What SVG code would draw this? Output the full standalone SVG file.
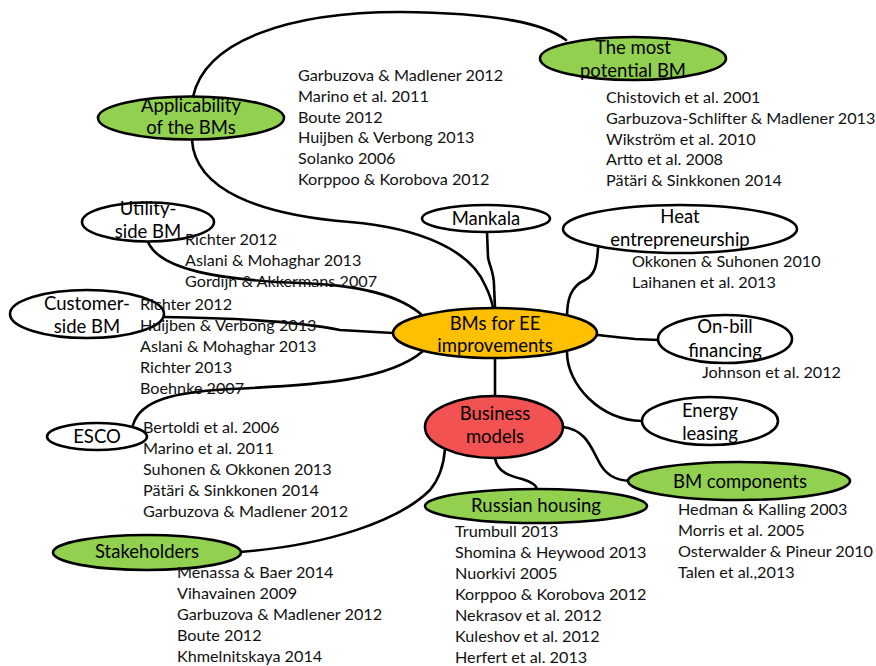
<svg xmlns="http://www.w3.org/2000/svg" width="876" height="666" viewBox="0 0 876 666">
  <style>
    .c { fill: none; stroke: #000; stroke-width: 2.6; stroke-linecap: round; }
    .n { stroke: #000; stroke-width: 2.6; }
    .w { fill: #fff; }
    .g { fill: #92D050; }
    .o { fill: #FFC000; }
    .r { fill: #F35252; }
    .lab { font-family: Lato, "Liberation Sans", sans-serif; font-size: 18.5px; text-anchor: middle; fill: #000; }
    .ref { font-family: Lato, "Liberation Sans", sans-serif; font-size: 16.2px; fill: #111; }
  </style>

  <rect width="876" height="666" fill="#fff"/>

  <!-- connectors between the topic bubbles -->
  <g id="connectors">
    <path class="c" d="M193,97 C205,40 290,12 400,12 C500,13 545,24 566,40"/>
    <path class="c" d="M192,140 C195,190 260,215 350,222 C420,228 470,250 485,285 C490,295 492,302 493,308"/>
    <path class="c" d="M487,232 L488,257 C489,265 494,272 494,285 L495,308"/>
    <path class="c" d="M598,248 C597,265 595,275 585,280 C570,287 567,300 567,318"/>
    <path class="c" d="M597,335 C610,336 620,338 635,339 L658,340"/>
    <path class="c" d="M567,352 C567,385 600,420 642,421"/>
    <path class="c" d="M148,242 C160,270 220,280 300,283 C360,285 400,295 423,316"/>
    <path class="c" d="M163,317 C240,318 300,322 340,330 L393,333"/>
    <path class="c" d="M133,425 C140,400 175,392 230,389 C320,385 390,380 423,351"/>
    <path class="c" d="M495,358 L495,396"/>
    <path class="c" d="M495,458 C497,472 510,476 522,479 C532,482 537,485 537,490"/>
    <path class="c" d="M563,427 C585,430 590,445 598,460 C605,475 615,480 630,481"/>
    <path class="c" d="M240,552 C330,545 400,520 430,490 C440,478 444,462 445,449"/>
  </g>

  <g id="applicability">
    <ellipse class="n g" cx="191" cy="118" rx="93" ry="21.5"/>
    <text class="lab" x="191" y="112">Applicability</text>
    <text class="lab" x="191" y="134">of the BMs</text>
    <text class="ref" x="298" y="81">
      <tspan x="298">Garbuzova &amp; Madlener 2012</tspan>
      <tspan x="298" dy="20.8">Marino et al. 2011</tspan>
      <tspan x="298" dy="20.8">Boute 2012</tspan>
      <tspan x="298" dy="20.8">Huijben &amp; Verbong 2013</tspan>
      <tspan x="298" dy="20.8">Solanko 2006</tspan>
      <tspan x="298" dy="20.8">Korppoo &amp; Korobova 2012</tspan>
    </text>
  </g>

  <g id="most-potential">
    <ellipse class="n g" cx="633" cy="58.5" rx="93" ry="21.5"/>
    <text class="lab" x="633" y="54">The most</text>
    <text class="lab" x="633" y="77">potential BM</text>
    <text class="ref" x="606" y="103">
      <tspan x="606">Chistovich et al. 2001</tspan>
      <tspan x="606" dy="20.8">Garbuzova-Schlifter &amp; Madlener 2013</tspan>
      <tspan x="606" dy="20.8">Wikström et al. 2010</tspan>
      <tspan x="606" dy="20.8">Artto et al. 2008</tspan>
      <tspan x="606" dy="20.8">Pätäri &amp; Sinkkonen 2014</tspan>
    </text>
  </g>

  <g id="mankala">
    <ellipse class="n w" cx="486" cy="218.5" rx="64" ry="13.5"/>
    <text class="lab" x="486" y="225">Mankala</text>
  </g>

  <g id="heat-entrepreneurship">
    <ellipse class="n w" cx="680" cy="229" rx="117" ry="24"/>
    <text class="lab" x="680" y="223">Heat</text>
    <text class="lab" x="680" y="246">entrepreneurship</text>
    <text class="ref" x="632" y="267">
      <tspan x="632">Okkonen &amp; Suhonen 2010</tspan>
      <tspan x="632" dy="21">Laihanen et al. 2013</tspan>
    </text>
  </g>

  <g id="utility-side">
    <ellipse class="n w" cx="148" cy="222" rx="66" ry="19.5"/>
    <text class="lab" x="148" y="215">Utility-</text>
    <text class="lab" x="148" y="238">side BM</text>
    <text class="ref" x="185" y="245">
      <tspan x="185">Richter 2012</tspan>
      <tspan x="185" dy="21">Aslani &amp; Mohaghar 2013</tspan>
      <tspan x="185" dy="21">Gordijn &amp; Akkermans 2007</tspan>
    </text>
  </g>

  <g id="customer-side">
    <ellipse class="n w" cx="87" cy="314" rx="77" ry="24"/>
    <text class="lab" x="87" y="310">Customer-</text>
    <text class="lab" x="87" y="333">side BM</text>
    <text class="ref" x="140" y="310">
      <tspan x="140">Richter 2012</tspan>
      <tspan x="140" dy="21">Huijben &amp; Verbong 2013</tspan>
      <tspan x="140" dy="21">Aslani &amp; Mohaghar 2013</tspan>
      <tspan x="140" dy="21">Richter 2013</tspan>
      <tspan x="140" dy="21">Boehnke 2007</tspan>
    </text>
  </g>

  <g id="bms-for-ee">
    <ellipse class="n o" cx="495" cy="333" rx="102" ry="25"/>
    <text class="lab" x="495" y="330">BMs for EE</text>
    <text class="lab" x="495" y="352">improvements</text>
  </g>

  <g id="on-bill-financing">
    <ellipse class="n w" cx="725" cy="339" rx="67" ry="24"/>
    <text class="lab" x="725" y="333">On-bill</text>
    <text class="lab" x="725" y="357">financing</text>
    <text class="ref" x="702" y="378">Johnson et al. 2012</text>
  </g>

  <g id="energy-leasing">
    <ellipse class="n w" cx="710" cy="421" rx="68" ry="24"/>
    <text class="lab" x="710" y="417">Energy</text>
    <text class="lab" x="710" y="440">leasing</text>
  </g>

  <g id="esco">
    <ellipse class="n w" cx="97" cy="436.5" rx="50" ry="13.5"/>
    <text class="lab" x="97" y="443">ESCO</text>
    <text class="ref" x="143" y="433">
      <tspan x="143">Bertoldi et al. 2006</tspan>
      <tspan x="143" dy="21">Marino et al. 2011</tspan>
      <tspan x="143" dy="21">Suhonen &amp; Okkonen 2013</tspan>
      <tspan x="143" dy="21">Pätäri &amp; Sinkkonen 2014</tspan>
      <tspan x="143" dy="21">Garbuzova &amp; Madlener 2012</tspan>
    </text>
  </g>

  <g id="business-models">
    <ellipse class="n r" cx="494" cy="427" rx="69" ry="31"/>
    <text class="lab" x="495" y="420">Business</text>
    <text class="lab" x="495" y="443">models</text>
  </g>

  <g id="russian-housing">
    <ellipse class="n g" cx="536" cy="506" rx="111" ry="17"/>
    <text class="lab" x="536" y="512">Russian housing</text>
    <text class="ref" x="455" y="537">
      <tspan x="455">Trumbull 2013</tspan>
      <tspan x="455" dy="21">Shomina &amp; Heywood 2013</tspan>
      <tspan x="455" dy="21">Nuorkivi 2005</tspan>
      <tspan x="455" dy="21">Korppoo &amp; Korobova 2012</tspan>
      <tspan x="455" dy="21">Nekrasov et al. 2012</tspan>
      <tspan x="455" dy="21">Kuleshov et al. 2012</tspan>
      <tspan x="455" dy="21">Herfert et al. 2013</tspan>
    </text>
  </g>

  <g id="bm-components">
    <ellipse class="n g" cx="739" cy="481" rx="111" ry="19"/>
    <text class="lab" x="740" y="488">BM components</text>
    <text class="ref" x="678" y="515">
      <tspan x="678">Hedman &amp; Kalling 2003</tspan>
      <tspan x="678" dy="21">Morris et al. 2005</tspan>
      <tspan x="678" dy="21">Osterwalder &amp; Pineur 2010</tspan>
      <tspan x="678" dy="21">Talen et al.,2013</tspan>
    </text>
  </g>

  <g id="stakeholders">
    <ellipse class="n g" cx="147" cy="552.5" rx="94" ry="17.5"/>
    <text class="lab" x="147" y="558">Stakeholders</text>
    <text class="ref" x="177" y="578">
      <tspan x="177">Menassa &amp; Baer 2014</tspan>
      <tspan x="177" dy="21">Vihavainen 2009</tspan>
      <tspan x="177" dy="21">Garbuzova &amp; Madlener 2012</tspan>
      <tspan x="177" dy="21">Boute 2012</tspan>
      <tspan x="177" dy="21">Khmelnitskaya 2014</tspan>
    </text>
  </g>
</svg>
